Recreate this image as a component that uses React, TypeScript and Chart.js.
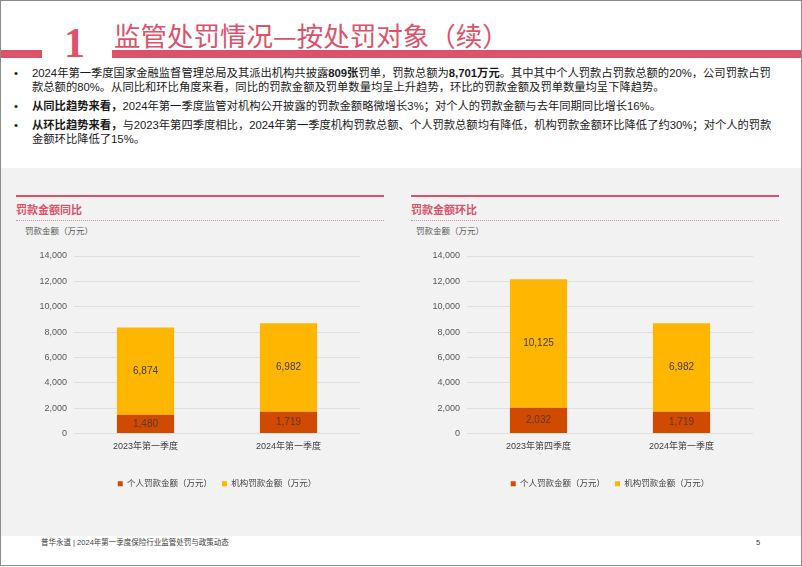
import React, { useEffect, useRef } from 'react';
import { Chart, registerables } from 'chart.js';

Chart.register(...registerables);

// ---------- data ----------
const personalLabel = '个人罚款金额（万元）';
const institutionLabel = '机构罚款金额（万元）';

const yoyCategories = ['2023年第一季度', '2024年第一季度'];
const yoyPersonal = [1480, 1719];
const yoyInstitution = [6874, 6982];

const qoqCategories = ['2023年第四季度', '2024年第一季度'];
const qoqPersonal = [2032, 1719];
const qoqInstitution = [10125, 6982];

const yMin = 0;
const yMax = 14000;
const yStep = 2000;

// ---------- style ----------
const ROSE = '#DB536A';
const ORANGE = '#D04A02';
const YELLOW = '#FFB600';
const FONT = "'Liberation Sans', 'Noto Sans CJK SC', sans-serif";
const CJK = "'Liberation Sans', 'Noto Sans CJK SC', sans-serif";

const fmt = (v: number) => v.toLocaleString('en-US');

const barLabels = {
  id: 'barLabels',
  afterDatasetsDraw(chart: any) {
    const ctx = chart.ctx;
    ctx.save();
    ctx.textAlign = 'center';
    ctx.textBaseline = 'middle';
    ctx.font = `10px ${FONT}`;
    chart.data.datasets.forEach((ds: any, di: number) => {
      const meta = chart.getDatasetMeta(di);
      meta.data.forEach((el: any, i: number) => {
        const p = el.getProps(['x', 'y', 'base'], true);
        ctx.fillStyle = di === 0 ? '#5e3a26' : '#404040';
        ctx.fillText(fmt(ds.data[i]), p.x, (p.y + p.base) / 2);
      });
    });
    ctx.restore();
  },
};

function BarPanel(props: { left: number; top: number; categories: string[]; personal: number[]; institution: number[] }) {
  const ref = useRef<HTMLCanvasElement>(null);
  useEffect(() => {
    if (!ref.current) return;
    const chart = new Chart(ref.current, {
      type: 'bar',
      data: {
        labels: props.categories,
        datasets: [
          { label: personalLabel, data: props.personal, backgroundColor: ORANGE, categoryPercentage: 1, barPercentage: 0.4 },
          { label: institutionLabel, data: props.institution, backgroundColor: YELLOW, categoryPercentage: 1, barPercentage: 0.4 },
        ],
      },
      options: {
        responsive: false,
        maintainAspectRatio: false,
        animation: false,
        layout: { padding: { top: 16, right: 24, left: 0, bottom: 2 } },
        scales: {
          x: {
            stacked: true,
            grid: { display: false, drawTicks: false },
            border: { display: false },
            ticks: { color: '#404040', font: { size: 9, family: CJK }, padding: 8 },
            afterFit: (s: any) => { s.height = 36; },
          },
          y: {
            stacked: true,
            min: yMin,
            max: yMax,
            grid: { color: '#d9d9d9', lineWidth: 0.8, drawTicks: false },
            border: { display: false },
            ticks: { stepSize: yStep, color: '#595959', font: { size: 9, family: FONT }, padding: 7, callback: (v: any) => fmt(Number(v)) },
            afterFit: (s: any) => { s.width = 58; },
          },
        },
        plugins: {
          legend: {
            position: 'bottom',
            fullSize: false,
            labels: { boxWidth: 5, boxHeight: 5, color: '#404040', font: { size: 8.5, family: CJK }, padding: 10 },
          },
          tooltip: { enabled: false },
        },
      },
      plugins: [barLabels],
    } as any);
    return () => chart.destroy();
  }, []);
  return (
    <canvas
      ref={ref}
      width={368}
      height={260}
      style={{ position: 'absolute', left: props.left, top: props.top, width: 368, height: 260 }}
    />
  );
}

const abs = (s: React.CSSProperties): React.CSSProperties => ({ position: 'absolute', whiteSpace: 'nowrap', ...s });

function PanelHeader(props: { left: number; width: number; title: string; unitLeft: number }) {
  return (
    <>
      <div style={abs({ left: props.left, top: 195, width: props.width, height: 1.5, background: ROSE })} />
      <div style={abs({ left: props.left, top: 203, lineHeight: '14px', fontSize: 11, fontWeight: 700, color: ROSE, fontFamily: CJK })}>{props.title}</div>
      <div style={abs({ left: props.left, top: 220, width: props.width, height: 0, borderTop: '1px dotted #d493a0' })} />
      <div style={abs({ left: props.unitLeft, top: 225, lineHeight: '12px', fontSize: 8.5, color: '#595959', fontFamily: CJK })}>罚款金额（万元）</div>
    </>
  );
}

export default function App() {
  const bulletStyle: React.CSSProperties = { fontSize: 11.3, lineHeight: '14px', color: '#1a1a1a', fontFamily: CJK };
  return (
    <div style={{ position: 'fixed', left: 0, top: 0, width: 802, height: 567, background: '#fff', overflow: 'hidden', fontFamily: CJK }}>
      {/* title */}
      <div style={abs({ left: 0, top: 50, width: 42, height: 8, background: ROSE })} />
      <div style={abs({ left: 112, top: 50, width: 690, height: 8, background: ROSE })} />
      <div style={abs({ left: 64, top: 22, fontSize: 42, lineHeight: '42px', fontWeight: 700, color: ROSE, fontFamily: "'Liberation Serif', serif" })}>1</div>
      <div style={abs({ left: 114, top: 20, fontSize: 26.5, lineHeight: '30px', color: ROSE, fontFamily: "'Noto Sans CJK SC', sans-serif" })}>监管处罚情况—按处罚对象（续）</div>

      {/* bullets */}
      <div style={abs({ left: 14, top: 66, ...bulletStyle })}>•</div>
      <div style={abs({ left: 32, top: 66, ...bulletStyle })}>
        2024年第一季度国家金融监督管理总局及其派出机构共披露<b>809张</b>罚单，罚款总额为<b>8,701万元</b>。其中其中个人罚款占罚款总额的20%，公司罚款占罚<br />
        款总额的80%。从同比和环比角度来看，同比的罚款金额及罚单数量均呈上升趋势，环比的罚款金额及罚单数量均呈下降趋势。
      </div>
      <div style={abs({ left: 14, top: 99, ...bulletStyle })}>•</div>
      <div style={abs({ left: 32, top: 99, ...bulletStyle })}>
        <b>从同比趋势来看，</b>2024年第一季度监管对机构公开披露的罚款金额略微增长3%；对个人的罚款金额与去年同期同比增长16%。
      </div>
      <div style={abs({ left: 14, top: 118, ...bulletStyle })}>•</div>
      <div style={abs({ left: 32, top: 118, ...bulletStyle })}>
        <b>从环比趋势来看，</b>与2023年第四季度相比，2024年第一季度机构罚款总额、个人罚款总额均有降低，机构罚款金额环比降低了约30%；对个人的罚款<br />
        金额环比降低了15%。
      </div>

      {/* grey chart area */}
      <div style={abs({ left: 0, top: 168, width: 802, height: 368, background: '#f2f2f2' })} />
      <PanelHeader left={16} width={368} title="罚款金额同比" unitLeft={25} />
      <PanelHeader left={411} width={368} title="罚款金额环比" unitLeft={416} />
      <BarPanel left={16} top={240} categories={yoyCategories} personal={yoyPersonal} institution={yoyInstitution} />
      <BarPanel left={409} top={240} categories={qoqCategories} personal={qoqPersonal} institution={qoqInstitution} />

      {/* footer */}
      <div style={abs({ left: 41, top: 538, fontSize: 7.5, lineHeight: '10px', color: '#404040' })}>普华永道 | 2024年第一季度保险行业监管处罚与政策动态</div>
      <div style={abs({ left: 756, top: 538, fontSize: 7.5, lineHeight: '10px', color: '#404040' })}>5</div>

      {/* slide border */}
      <div style={abs({ left: 0, top: 0, width: 802, height: 566, boxSizing: 'border-box', border: '1px solid #8c8c8c', pointerEvents: 'none' })} />
    </div>
  );
}
